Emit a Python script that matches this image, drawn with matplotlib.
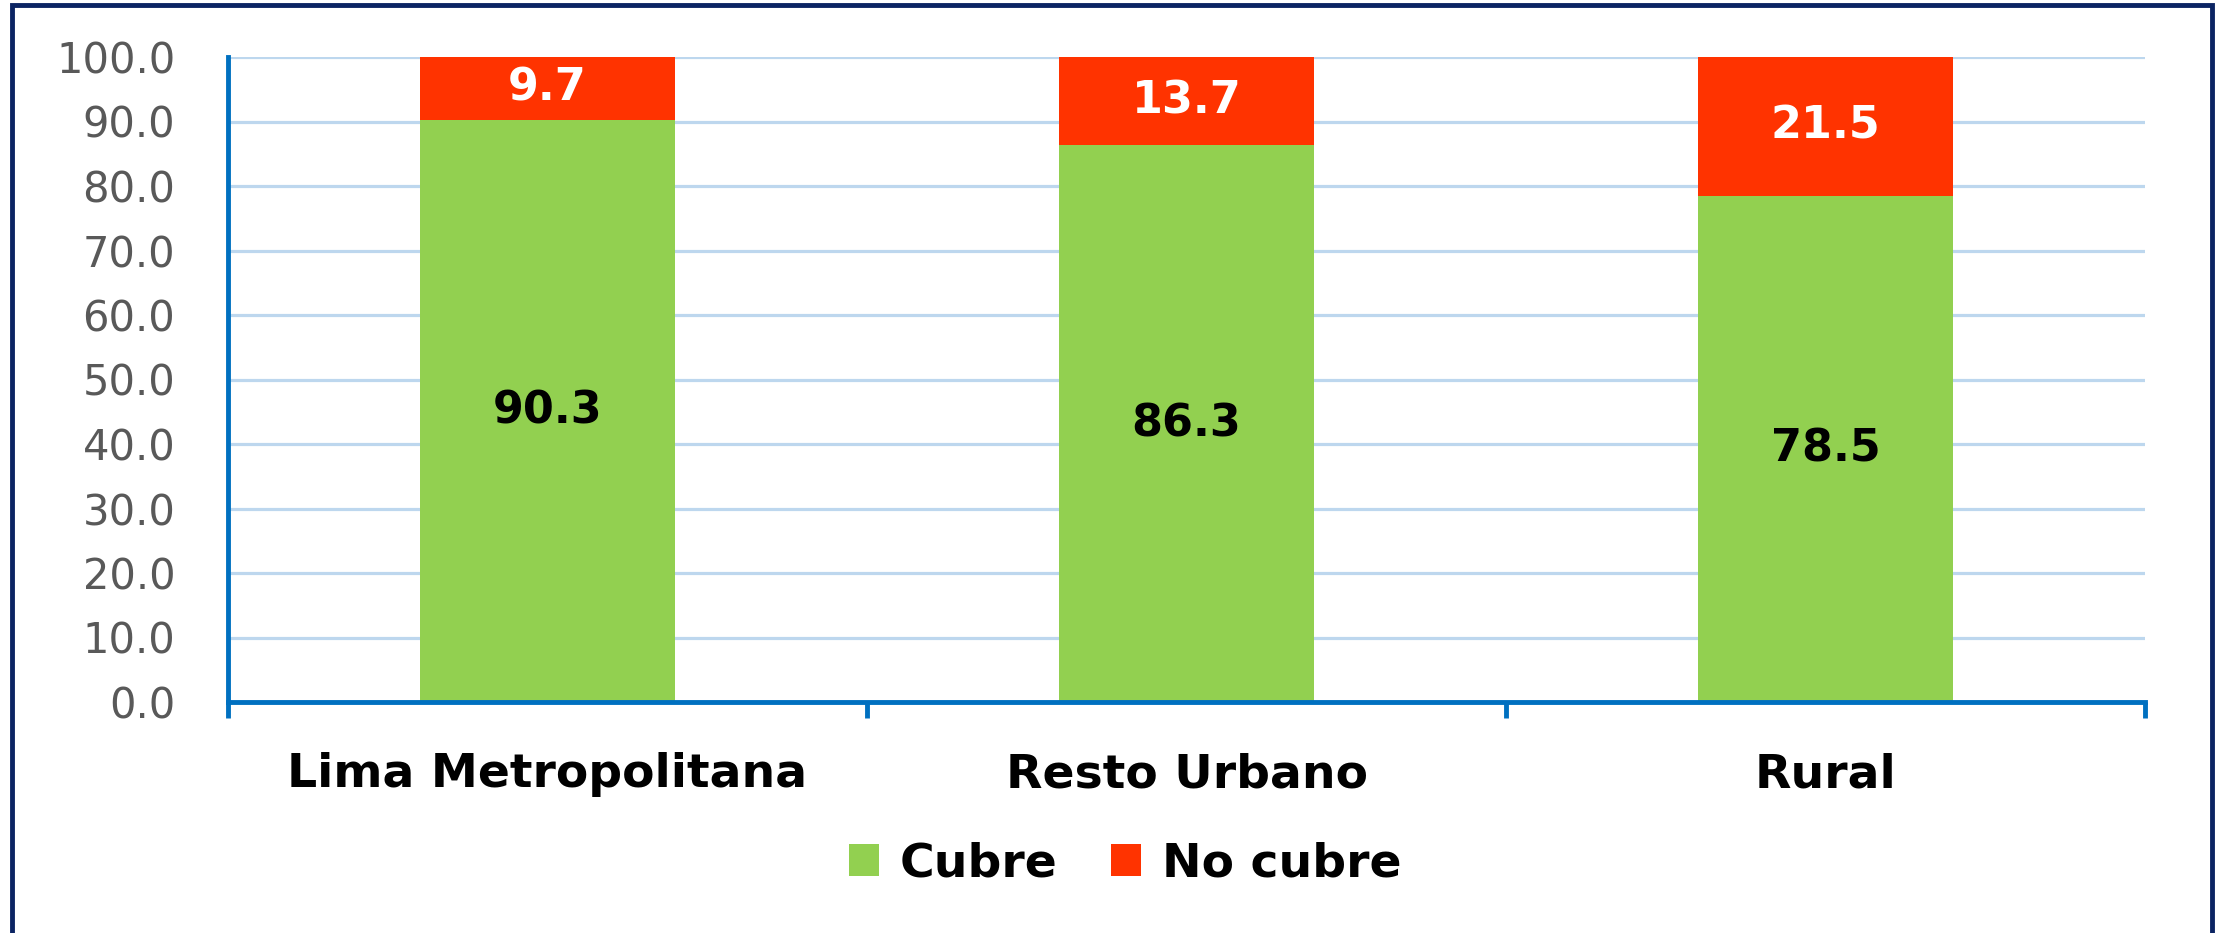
import matplotlib
matplotlib.use("Agg")
import matplotlib.pyplot as plt
from matplotlib.patches import Rectangle, Patch
from matplotlib.ticker import FixedLocator
import numpy as np

categories = ["Lima Metropolitana", "Resto Urbano", "Rural"]
cubre = [90.3, 86.3, 78.5]
no_cubre = [9.7, 13.7, 21.5]
series_names = ["Cubre", "No cubre"]
y_ticks = [0, 10, 20, 30, 40, 50, 60, 70, 80, 90, 100]

GREEN = "#92D050"
RED = "#FF3300"
AXIS_BLUE = "#0070C0"
GRID_BLUE = "#BDD7EE"
NAVY = "#0B2463"
GRAY = "#595959"

plt.rcParams["font.family"] = ["DejaVu Sans"]

W, H = 2221, 933
fig = plt.figure(figsize=(W / 100, H / 100), dpi=100)
ax = fig.add_axes([228 / W, 1 - 702 / H, (2145 - 228) / W, (702 - 57) / H])

x = np.arange(len(categories))
b1 = ax.bar(x, cubre, width=0.4, color=GREEN, zorder=3, label=series_names[0])
b2 = ax.bar(x, no_cubre, width=0.4, bottom=cubre, color=RED, zorder=3, label=series_names[1])

ax.bar_label(b1, labels=[f"{v:.1f}" for v in cubre], label_type="center",
             color="black", fontsize=32, fontweight="bold")
ax.bar_label(b2, labels=[f"{v:.1f}" for v in no_cubre], label_type="center",
             color="white", fontsize=32, fontweight="bold")

ax.set_xlim(-0.5, len(categories) - 0.5)
ax.set_ylim(0, 100)
ax.set_yticks(y_ticks)
ax.set_yticklabels([f"{v:.1f}" for v in y_ticks])
ax.tick_params(axis="y", length=0, pad=38, labelsize=30, labelcolor=GRAY)

ax.set_xticks(x)
ax.set_xticklabels(categories, fontsize=34, fontweight="bold")
ax.xaxis.set_minor_locator(FixedLocator(np.arange(-0.5, len(categories), 1.0)))
ax.tick_params(axis="x", which="major", length=0, pad=36)
ax.tick_params(axis="x", which="minor", length=11.5, width=3.5, color=AXIS_BLUE)

ax.yaxis.grid(True, color=GRID_BLUE, linewidth=2.3, zorder=0)
ax.set_axisbelow(True)
for s in ["top", "right"]:
    ax.spines[s].set_visible(False)
for s in ["left", "bottom"]:
    ax.spines[s].set_color(AXIS_BLUE)
    ax.spines[s].set_linewidth(3.5)
    ax.spines[s].set_zorder(4)

handles = [Patch(facecolor=GREEN), Patch(facecolor=RED)]
fig.legend(handles, series_names, loc="center", bbox_to_anchor=(1125 / W, 1 - 864 / H),
           ncol=2, frameon=False, prop={"size": 34, "weight": "bold"},
           handlelength=0.64, handleheight=0.64, handletextpad=0.43, columnspacing=1.15)

border = Rectangle((12 / W, -0.1), (2212 - 12) / W, 1.1 - 5 / H, transform=fig.transFigure,
                   fill=False, edgecolor=NAVY, linewidth=3.5, clip_on=False)
fig.patches.append(border)

fig.savefig("out.png", dpi=100)
